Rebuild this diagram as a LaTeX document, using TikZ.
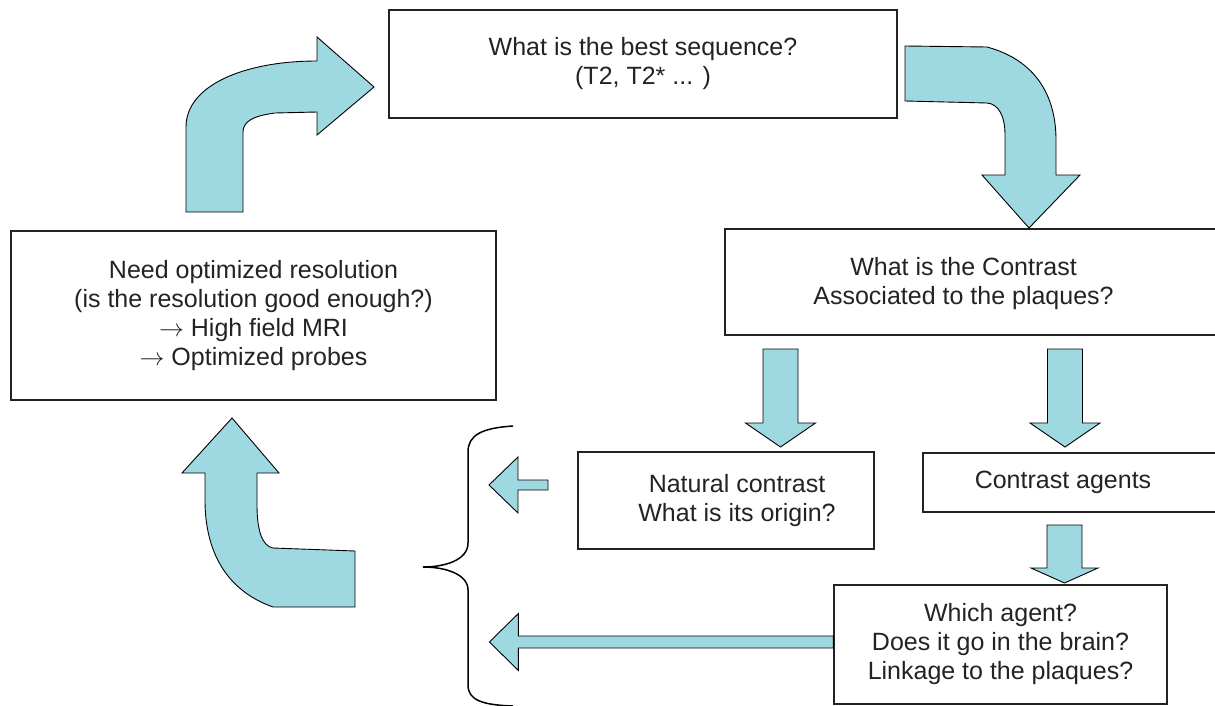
\documentclass[tikz,border=0pt]{standalone}
\usepackage{fontspec}
\setmainfont{Liberation Sans}
\usepackage{amsmath}
\usetikzlibrary{positioning, calc}
\definecolor{paleblue}{RGB}{158,217,225}
\definecolor{boxgray}{RGB}{35,35,35}

\begin{document}
\begin{tikzpicture}[x=1pt, y=-1pt,
		box/.style={draw=boxgray, line width=1.2pt, inner sep=0pt, align=center, text=boxgray, font=\fontsize{25}{29}\selectfont},
		boxtext/.style={inner sep=0pt, align=center, text=boxgray, font=\fontsize{25}{29}\selectfont},
		blockarrow/.style={draw=black, line width=0.9pt, fill=paleblue, line join=miter}]
		\useasboundingbox (0,0) rectangle (1215,706);

		% question boxes
		\node[box, minimum width=508, minimum height=108] (seq) at (643,64) {What is the best sequence?\\(T2, T2* ... )};
		\node[box, minimum width=485, minimum height=169] (res) at (253.5,315.5) {Need optimized resolution\\(is the resolution good enough?)\\$\rightarrow$ High field MRI\\$\rightarrow$ Optimized probes};
		\node[box, minimum width=497, minimum height=106] (contrast) at (973.5,282) {};
		\node[boxtext] (contrasttext) at ([xshift=-10,yshift=-2]contrast.center) {What is the Contrast\\Associated to the plaques?};
		\node[box, minimum width=296, minimum height=97] (natural) at (726,500.5) {};
		\node[boxtext] (naturaltext) at ([xshift=11]natural.center) {Natural contrast\\What is its origin?};
		\node[box, minimum width=299, minimum height=59] (agents) at (1072.5,482.5) {};
		\node[boxtext] (agentstext) at ([xshift=-9.5]agents.center) {Contrast agents};
		\node[box, minimum width=333, minimum height=119] (which) at (1000.5,644.5) {Which agent?\\Does it go in the brain?\\Linkage to the plaques?};

		% curved arrows of the loop
		\draw[blockarrow] (186,212) -- (186,127) .. controls (186,85) and (245,61) .. (317,61) -- (317,37) -- (374,87) -- (317,135) -- (317,112) -- (275,113) .. controls (252,116) and (243,122) .. (243,132) -- (243,212) -- cycle;
		\draw[blockarrow] (905,46) -- (987,47) .. controls (1035,60) and (1056,95) .. (1056,140) -- (1056,175) -- (1080,175) -- (1029,228) -- (982,175) -- (1005,175) -- (1005,135) .. controls (1005,115) and (998,104) .. (987,103) -- (905,101) -- cycle;
		\draw[blockarrow] (232,418) -- (279,473) -- (257,473) -- (257,505) .. controls (257,530) and (262,546) .. (273,548) -- (355,551) -- (355,607) -- (273,607) .. controls (225,590) and (205,550) .. (205,500) -- (205,473) -- (182,473) -- cycle;

		% straight arrows
		\pgfmathsetmacro{\shaft}{17.5}
		\pgfmathsetmacro{\head}{35}
		\draw[blockarrow] (763,349) -- ++(2*\shaft,0) -- ++(0,74) -- ++(\head-\shaft,0) -- ++(-\head,24) -- ++(-\head,-24) -- ++(\head-\shaft,0) -- cycle;
		\draw[blockarrow] (1047.5,349) -- ++(2*\shaft,0) -- ++(0,74) -- ++(\head-\shaft,0) -- ++(-\head,24) -- ++(-\head,-24) -- ++(\head-\shaft,0) -- cycle;
		\pgfmathsetmacro{\head}{33.5}
		\draw[blockarrow] (1047,525) -- ++(2*\shaft,0) -- ++(0,43) -- ++(\head-\shaft,0) -- ++(-\head,15) -- ++(-\head,-15) -- ++(\head-\shaft,0) -- cycle;

		\pgfmathsetmacro{\shaft}{5}
		\pgfmathsetmacro{\head}{28}
		\draw[blockarrow] (548,485) -- ++(0,-\shaft) -- ++(-30,0) -- ++(0,\shaft-\head) -- ++(-29,\head) -- ++(29,\head) -- ++(0,\shaft-\head) -- ++(30,0) -- cycle;
		\pgfmathsetmacro{\shaft}{6}
		\pgfmathsetmacro{\head}{28.5}
		\draw[blockarrow] (which.west |- 0,642) -- ++(0,-\shaft) -- ++(-315,0) -- ++(0,\shaft-\head) -- ++(-29,\head) -- ++(29,\head) -- ++(0,\shaft-\head) -- ++(315,0) -- cycle;

		% brace
		\draw[line width=1.5pt] (513,426) .. controls (482,428) and (468,435) .. (468,452) -- (468,543) .. controls (468,560) and (445,567) .. (423,567) .. controls (445,567) and (468,574) .. (468,590) -- (468,685) .. controls (468,700) and (482,705) .. (513,706);
\end{tikzpicture}
\end{document}
